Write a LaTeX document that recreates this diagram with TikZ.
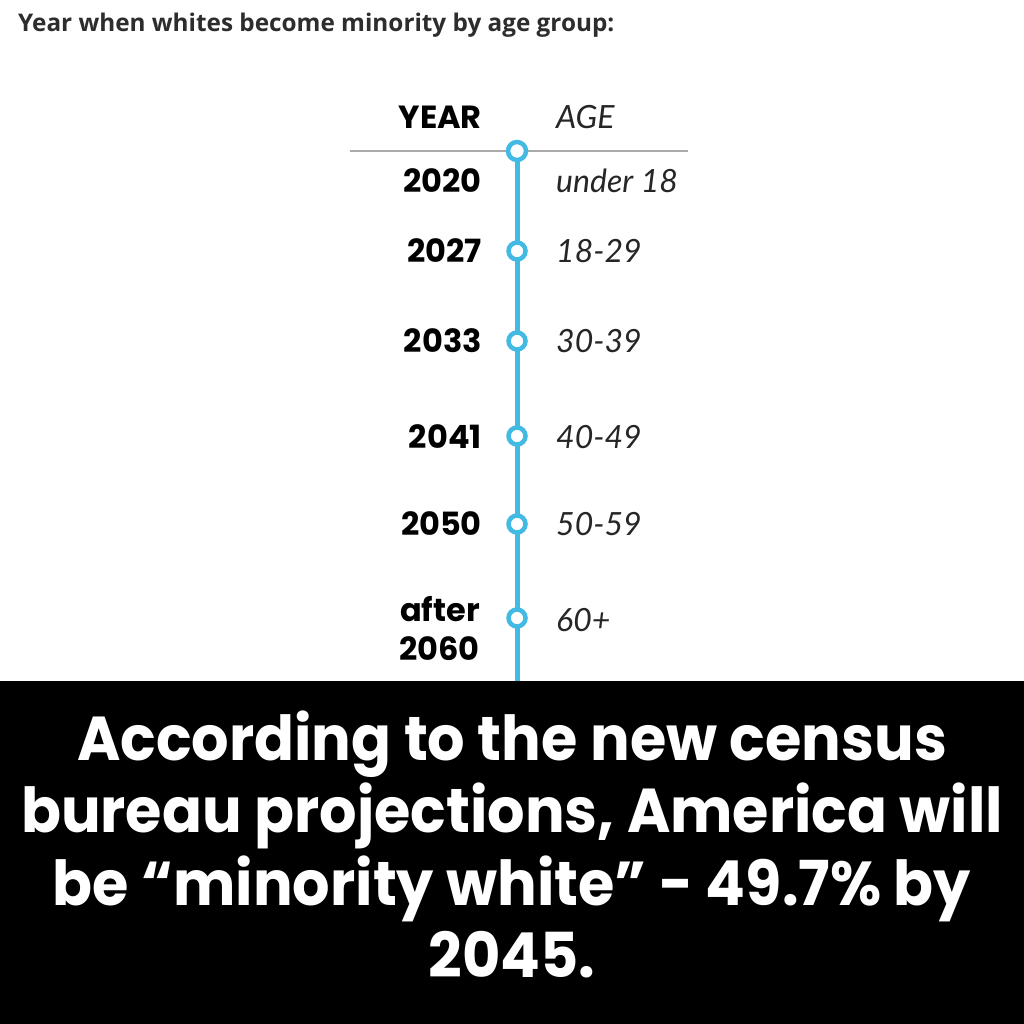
\documentclass[tikz,border=0pt]{standalone}
\usepackage{fontspec}
\newfontfamily\titlefont{Open Sans}
\newfontfamily\yearfont{Poppins}
\newfontfamily\agefont{Lato}
\newfontfamily\bigfont[FakeStretch=0.95]{Poppins}
\definecolor{lineblue}{RGB}{66,186,228}
\definecolor{rulegray}{RGB}{170,170,170}
\definecolor{titlegray}{RGB}{45,45,45}
\tikzset{
  yearlbl/.style={anchor=base east, inner sep=0pt, font=\yearfont\bfseries\fontsize{32}{34}\selectfont, text=black},
  agelbl/.style={anchor=base west, inner sep=0pt, font=\agefont\itshape\fontsize{32}{34}\selectfont, text=black!85},
  dot/.style={circle, draw=lineblue, line width=4.5pt, fill=white, minimum size=17pt, inner sep=0pt},
  bigline/.style={anchor=base, inner sep=0pt, font=\bigfont\bfseries\fontsize{62}{64}\selectfont, text=white}
}
\begin{document}
\begin{tikzpicture}[x=1pt,y=-1pt]
\useasboundingbox (0,0) rectangle (1024,1024);
\fill[white] (0,0) rectangle (1024,1024);
\node[anchor=base west, inner sep=0pt, font=\titlefont\bfseries\fontsize{24.3}{26}\selectfont, text=titlegray] (title) at (18,32) {Year when whites become minority by age group:};
\node[yearlbl] (hyear) at (482,129) {YEAR};
\node[agelbl] (hage) at (556,129) {AGE};
\coordinate (rl) at (350,151);
\coordinate (rr) at (688,151);
\draw[rulegray, line width=2pt] (rl) -- (rr);
\coordinate (top) at (517,151);
\coordinate (bot) at (517,690);
\draw[lineblue, line width=5pt] (top) -- (bot);
\fill[black] (0,681) rectangle (1024,1024);
\node[dot, minimum size=18pt] (d0) at (517,151) {};
\node[dot] (d1) at (517,251) {};
\node[dot] (d2) at (517,341) {};
\node[dot] (d3) at (517,436) {};
\node[dot] (d4) at (517,524) {};
\node[dot] (d5) at (517,618) {};
\node[yearlbl] (y0) at (482,193) {2020};
\node[yearlbl] (y1) at (482,262) {2027};
\node[yearlbl] (y2) at (482,352) {2033};
\node[yearlbl] (y3) at (482,448) {2041};
\node[yearlbl] (y4) at (482,535) {2050};
\node[yearlbl] (y5a) at (480,621) {after};
\node[yearlbl] (y5b) at (480,660) {2060};
\node[agelbl] (a0) at (556,193) {under 18};
\node[agelbl] (a1) at (556,262) {18-29};
\node[agelbl] (a2) at (556,352) {30-39};
\node[agelbl] (a3) at (556,448) {40-49};
\node[agelbl] (a4) at (556,535) {50-59};
\node[agelbl] (a5) at (556,631) {60+};
\node[bigline] (l1) at (512,760) {According to the new census};
\node[bigline] (l2) at (512,832) {bureau projections, America will};
\node[bigline] (l3) at (512,905) {be “minority white” - 49.7\% by};
\node[bigline] (l4) at (512,977) {2045.};
\end{tikzpicture}
\end{document}
